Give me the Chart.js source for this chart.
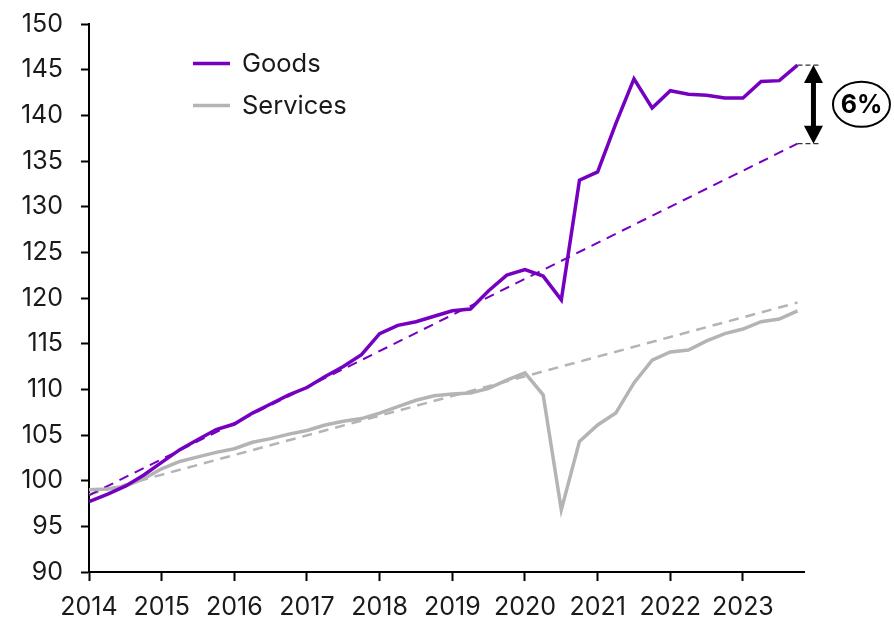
<!DOCTYPE html>
<html>
<head>
<meta charset="utf-8">
<title>Goods and services prices</title>
<script src="https://cdn.jsdelivr.net/npm/chart.js@4.4.1/dist/chart.umd.min.js"></script>
<style>
  html, body { margin: 0; padding: 0; background: #fff; }
  #wrap { width: 894px; height: 618px; }
</style>
</head>
<body>
<div id="wrap"><canvas id="priceChart" width="894" height="618"></canvas></div>
<script>
// quarterly index, 2014Q1 - 2023Q4
const quarters = [
    '2014Q1', '2014Q2', '2014Q3', '2014Q4', '2015Q1', '2015Q2', '2015Q3', '2015Q4',
    '2016Q1', '2016Q2', '2016Q3', '2016Q4', '2017Q1', '2017Q2', '2017Q3', '2017Q4',
    '2018Q1', '2018Q2', '2018Q3', '2018Q4', '2019Q1', '2019Q2', '2019Q3', '2019Q4',
    '2020Q1', '2020Q2', '2020Q3', '2020Q4', '2021Q1', '2021Q2', '2021Q3', '2021Q4',
    '2022Q1', '2022Q2', '2022Q3', '2022Q4', '2023Q1', '2023Q2', '2023Q3', '2023Q4'
];

const goods = [
    97.7, 98.5, 99.4, 100.6, 102.0, 103.4, 104.5, 105.6,
    106.2, 107.4, 108.4, 109.4, 110.2, 111.4, 112.5, 113.8,
    116.1, 117.0, 117.4, 118.0, 118.6, 118.8, 120.8, 122.5,
    123.1, 122.4, 119.8, 132.9, 133.8, 139.1, 144.0, 140.8,
    142.7, 142.3, 142.2, 141.9, 141.9, 143.7, 143.8, 145.5
];

const services = [
    99.0, 99.1, 99.4, 100.2, 101.3, 102.1, 102.6, 103.1,
    103.5, 104.2, 104.6, 105.1, 105.5, 106.1, 106.5, 106.8,
    107.4, 108.1, 108.8, 109.3, 109.5, 109.6, 110.1, 111.0,
    111.8, 109.4, 96.8, 104.3, 106.1, 107.4, 110.7, 113.2,
    114.1, 114.3, 115.3, 116.1, 116.6, 117.4, 117.7, 118.6
];

// pre-pandemic trend lines, start and end points
const trendSpan = ['2014Q1', '2023Q4'];
const goodsTrend = [98.4, 136.9];
const servicesTrend = [98.5, 119.5];

const yearTicks = [2014, 2015, 2016, 2017, 2018, 2019, 2020, 2021, 2022, 2023];

const purple = '#7500c0';
const grey = '#b4b4b4';
const ink = '#1a1a1a';
const fontFamily = 'Inter, "Noto Sans", sans-serif';

function qToX(q) {
    return Number(q.slice(0, 4)) + (Number(q.slice(5)) - 1) / 4;
}

function toPoints(labels, values) {
    return values.map((v, i) => ({ x: qToX(labels[i]), y: v }));
}

Chart.defaults.font.family = fontFamily;
Chart.defaults.color = ink;

const legendBox = {
    id: 'legendBox',
    afterDraw(chart) {
        const { ctx, chartArea } = chart;
        const items = chart.data.datasets.filter(ds => !ds.isTrend);
        ctx.save();
        ctx.font = '25.5px ' + fontFamily;
        ctx.textBaseline = 'middle';
        items.forEach((ds, i) => {
            const y = chartArea.top + 39.5 + i * 42;
            const x = chartArea.left + 104;
            ctx.strokeStyle = ds.borderColor;
            ctx.lineWidth = 3.5;
            ctx.beginPath();
            ctx.moveTo(x, y);
            ctx.lineTo(x + 37, y);
            ctx.stroke();
            ctx.fillStyle = ink;
            ctx.fillText(ds.label, x + 49, y + 1);
        });
        ctx.restore();
    }
};

const gapMarker = {
    id: 'gapMarker',
    afterDatasetsDraw(chart) {
        const { ctx, scales: { x, y } } = chart;
        const lastGoods = goods[goods.length - 1];
        const lastTrend = goodsTrend[goodsTrend.length - 1];
        const px = x.getPixelForValue(qToX(trendSpan[1]));
        const yTop = y.getPixelForValue(lastGoods);
        const yBot = y.getPixelForValue(lastTrend);
        const pct = Math.round((lastGoods / lastTrend - 1) * 100);

        ctx.save();
        ctx.strokeStyle = '#333';
        ctx.fillStyle = '#000';
        ctx.lineWidth = 1.2;
        ctx.setLineDash([5, 3]);
        [yTop, yBot].forEach(py => {
            ctx.beginPath();
            ctx.moveTo(px, py);
            ctx.lineTo(px + 24, py);
            ctx.stroke();
        });
        ctx.setLineDash([]);
        ctx.strokeStyle = '#000';

        const ax = px + 16;
        ctx.lineWidth = 5;
        ctx.beginPath();
        ctx.moveTo(ax, yTop + 16);
        ctx.lineTo(ax, yBot - 16);
        ctx.stroke();
        ctx.beginPath();
        ctx.moveTo(ax, yTop);
        ctx.lineTo(ax - 9.5, yTop + 18);
        ctx.lineTo(ax + 9.5, yTop + 18);
        ctx.closePath();
        ctx.fill();
        ctx.beginPath();
        ctx.moveTo(ax, yBot);
        ctx.lineTo(ax - 9.5, yBot - 18);
        ctx.lineTo(ax + 9.5, yBot - 18);
        ctx.closePath();
        ctx.fill();

        const cx = px + 64;
        const cy = (yTop + yBot) / 2;
        ctx.lineWidth = 2;
        ctx.beginPath();
        ctx.ellipse(cx, cy, 28.5, 22.5, 0, 0, Math.PI * 2);
        ctx.fillStyle = '#fff';
        ctx.fill();
        ctx.stroke();
        ctx.fillStyle = '#000';
        ctx.font = 'bold 25px ' + fontFamily;
        ctx.textAlign = 'center';
        ctx.textBaseline = 'middle';
        ctx.fillText(pct + '%', cx, cy + 1);
        ctx.restore();
    }
};

const ctx = document.getElementById('priceChart').getContext('2d');
new Chart(ctx, {
    type: 'line',
    data: {
        datasets: [
            {
                label: 'Goods',
                data: toPoints(quarters, goods),
                borderColor: purple,
                borderWidth: 3.5,
                pointRadius: 0
            },
            {
                label: 'Services',
                data: toPoints(quarters, services),
                borderColor: grey,
                borderWidth: 3.5,
                pointRadius: 0
            },
            {
                label: 'Goods trend',
                isTrend: true,
                data: toPoints(trendSpan, goodsTrend),
                borderColor: purple,
                borderWidth: 2,
                borderDash: [10, 7],
                pointRadius: 0
            },
            {
                label: 'Services trend',
                isTrend: true,
                data: toPoints(trendSpan, servicesTrend),
                borderColor: grey,
                borderWidth: 2.5,
                borderDash: [10, 7],
                pointRadius: 0
            }
        ]
    },
    options: {
        responsive: false,
        animation: false,
        layout: {
            padding: { top: 24, right: 90, left: 0, bottom: 0 }
        },
        plugins: {
            legend: { display: false },
            tooltip: { enabled: false }
        },
        scales: {
            x: {
                type: 'linear',
                min: yearTicks[0],
                max: 2023.84,
                afterFit: scale => {
                    scale.height = 46;
                    scale.paddingLeft = 0;
                    scale.paddingRight = 0;
                },
                afterBuildTicks: scale => {
                    scale.ticks = yearTicks.map(v => ({ value: v }));
                },
                border: { color: '#000', width: 2 },
                grid: {
                    drawOnChartArea: false,
                    tickLength: 9,
                    tickColor: '#000',
                    tickWidth: 2
                },
                ticks: {
                    font: { size: 25 },
                    color: ink,
                    padding: 11,
                    maxRotation: 0,
                    callback: v => String(v)
                }
            },
            y: {
                min: 90,
                max: 150,
                afterFit: scale => {
                    scale.width = 89;
                    scale.paddingTop = 0;
                    scale.paddingBottom = 0;
                },
                border: { color: '#000', width: 2 },
                grid: {
                    drawOnChartArea: false,
                    tickLength: 8,
                    tickColor: '#000',
                    tickWidth: 2
                },
                ticks: {
                    stepSize: 5,
                    font: { size: 25 },
                    color: ink,
                    padding: 18
                }
            }
        }
    },
    plugins: [legendBox, gapMarker]
});
</script>
</body>
</html>
